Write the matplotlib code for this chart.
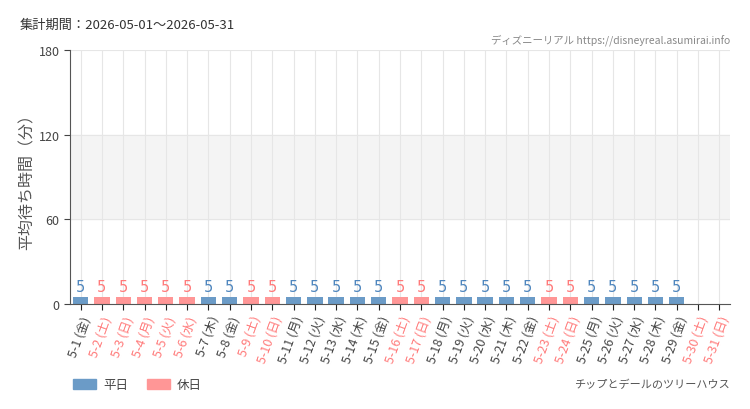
import matplotlib as mpl
mpl.use('Agg')
import matplotlib.pyplot as plt
from matplotlib.patches import Patch

plt.rcParams['font.family'] = ['Noto Sans CJK JP', 'DejaVu Sans']

days = list(range(1, 32))
weekdays = ['金', '土', '日', '月', '火', '水', '木'] * 5
weekdays = weekdays[:31]
holiday = [0, 1, 1, 1, 1, 1, 0, 0, 1, 1, 0, 0, 0, 0, 0, 1, 1, 0, 0, 0, 0, 0,
           1, 1, 0, 0, 0, 0, 0, 1, 1]
waits = [5] * 29 + [None, None]
labels = ['5-%d (%s)' % (d, w) for d, w in zip(days, weekdays)]

blue_bar = '#6b9bc7'
pink_bar = '#ff9696'
blue_txt = '#4f86be'
pink_txt = '#ff7a7a'
gray_txt = '#444444'

fig = plt.figure(figsize=(7.5, 4.1), dpi=100)
ax = fig.add_axes([70 / 750, 1 - 305 / 410, 660 / 750, 254 / 410])

ax.axhspan(60, 120, color='#f4f4f4', zorder=0)
for i in range(len(days)):
    ax.axvline(i, color='#e6e6e6', linewidth=0.8, zorder=0.5)
for yv in (60, 120, 180):
    ax.axhline(yv, color='#e6e6e6', linewidth=0.8, zorder=0.5)

for i, v in enumerate(waits):
    if v is None:
        continue
    c = pink_bar if holiday[i] else blue_bar
    tc = pink_txt if holiday[i] else blue_txt
    ax.bar(i, v, width=0.72, color=c, zorder=2)
    ax.text(i, v + 2.2, str(v), ha='center', va='bottom', color=tc,
            fontsize=10.5, family=['DejaVu Sans'])

ax.set_xlim(-0.5, len(days) - 0.5)
ax.set_ylim(0, 180)
ax.set_yticks([0, 60, 120, 180])
ax.set_xticks(range(len(days)))
ax.set_xticklabels(labels, rotation=70, ha='right', rotation_mode='anchor',
                   fontsize=9)
for lab, h in zip(ax.get_xticklabels(), holiday):
    lab.set_color(pink_txt if h else gray_txt)
ax.tick_params(axis='y', labelsize=9, colors=gray_txt, length=4)
ax.tick_params(axis='x', length=4, color='#222222', pad=3)

for s in ('top', 'right'):
    ax.spines[s].set_visible(False)
ax.spines['left'].set_color('#555555')
ax.spines['bottom'].set_color('#555555')

ax.set_ylabel('平均待ち時間（分）', fontsize=11.5, color='#555555', labelpad=2)

fig.text(20 / 750, 1 - 25 / 410, '集計期間：2026-05-01～2026-05-31',
         fontsize=9.5, color='#333333', va='center')
fig.text(730 / 750, 1 - 40 / 410, 'ディズニーリアル https://disneyreal.asumirai.info',
         fontsize=7.5, color='#888888', ha='right', va='center')
fig.text(730 / 750, 1 - 385 / 410, 'チップとデールのツリーハウス',
         fontsize=8, color='#555555', ha='right', va='center')

handles = [Patch(color=blue_bar, label='平日'), Patch(color=pink_bar, label='休日')]
fig.legend(handles=handles, loc='center left', bbox_to_anchor=(62 / 750, 1 - 386 / 410),
           ncol=2, frameon=False, fontsize=9, handlelength=1.8, handleheight=0.8,
           columnspacing=1.5, handletextpad=0.6, labelcolor='#444444')

fig.savefig('out.png', dpi=100)
